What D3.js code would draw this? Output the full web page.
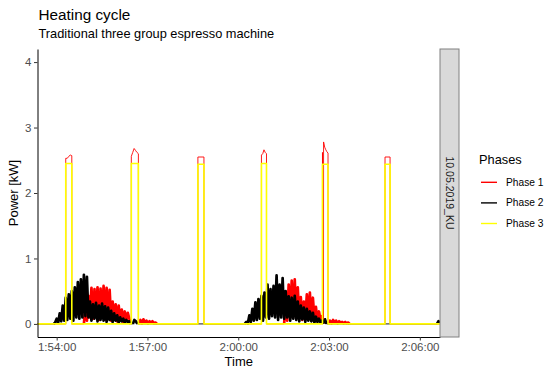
<!DOCTYPE html>
<html>
<head>
<meta charset="utf-8">
<script src="https://cdn.jsdelivr.net/npm/d3@7"></script>
<style>
body{margin:0;background:#fff;}
text{font-family:"Liberation Sans",Arial,sans-serif;}
</style>
</head>
<body>
<svg id="chart" width="545" height="369"></svg>
<script>
// ---- data ----
const chartTitle = "Heating cycle";
const chartSubtitle = "Traditional three group espresso machine";
const stripLabel = "10.05.2019_KU";
const phaseNames = ["Phase 1", "Phase 2", "Phase 3"];
const phaseColors = ["#FF0000", "#000000", "#FFFF00"];

const timeZero = "1:54:00";      // seconds below are counted from here
const timeFrom = -38;            // 1:53:22
const timeTo = 760;              // 2:06:40
const xTickLabels = ["1:54:00", "1:57:00", "2:00:00", "2:03:00", "2:06:00"];
const yTickValues = [0, 1, 2, 3, 4];

// heater pulses (seconds from 1:54:00)
const pulseOn = [18, 148, 280, 406, 527, 651];
const pulseOff = [30, 162, 292, 416, 538, 661];
const phase3Tops = [[2.45, 2.45], [2.45, 2.45], [2.44, 2.44], [2.45, 2.45], [2.44, 2.44], [2.44, 2.44]];
const phase1Tops = [
  [2.53, 2.53, 2.56, 2.58, 2.57],
  [2.56, 2.62, 2.68, 2.65, 2.62, 2.6],
  [2.55, 2.55],
  [2.58, 2.6, 2.66, 2.62, 2.6],
  [2.62, 2.78, 2.7, 2.66, 2.63, 2.61],
  [2.55, 2.55]
];

// group loads, sampled every 3 s
const sampleStep = 3;
const p1LoadA = [0, 0.28, 0.05, 0.43, 0.1, 0.55, 0.08, 0.53, 0.12, 0.56, 0.06, 0.54, 0.1, 0.58, 0.07, 0.55,
  0.09, 0.52, 0.05, 0.34, 0.08, 0.3, 0.04, 0.28, 0.06, 0.22, 0.03, 0.19, 0.05, 0.17, 0.08, 0];
const p1TailA = [0, 0.06, 0.01, 0.07, 0.02, 0.05, 0.01, 0.04, 0.02, 0.04, 0.01, 0.02, 0];
const p1LoadB = [0, 0.38, 0.05, 0.6, 0.1, 0.66, 0.12, 0.68, 0.08, 0.56, 0.1, 0.41, 0.06, 0.34, 0.1, 0.45,
  0.08, 0.48, 0.05, 0.4, 0.08, 0.26, 0.04, 0.19, 0.06, 0.12, 0];
const p1TailB = [0, 0.05, 0.01, 0.06, 0.02, 0.05, 0.01, 0.04, 0.02, 0.03, 0.01, 0.03, 0.01, 0.02, 0];
const p1Starts = [54, 163, 451, 539];

const p2LoadA = [0, 0.02, 0.08, 0.02, 0.16, 0.04, 0.28, 0.05, 0.4, 0.06, 0.45, 0.08, 0.5, 0.05, 0.56, 0.1,
  0.64, 0.08, 0.68, 0.1, 0.75, 0.12, 0.72, 0.1, 0.34, 0.05, 0.3, 0.08, 0.32, 0.04, 0.28, 0.06,
  0.31, 0.05, 0.27, 0.03, 0.25, 0.06, 0.2, 0.03, 0.16, 0.05, 0.13, 0.02, 0.1, 0.04, 0.08, 0.02,
  0.06, 0.03, 0.04, 0];
const p2BlipA = [0, 0.06, 0.04, 0];
const p2LoadB = [0, 0.03, 0.01, 0.13, 0.03, 0.23, 0.05, 0.33, 0.06, 0.38, 0.08, 0.43, 0.05, 0.48, 0.1, 0.6,
  0.08, 0.53, 0.12, 0.58, 0.1, 0.74, 0.06, 0.6, 0.1, 0.7, 0.08, 0.5, 0.1, 0.42, 0.05, 0.4,
  0.08, 0.43, 0.06, 0.34, 0.04, 0.28, 0.07, 0.25, 0.03, 0.23, 0.05, 0.19, 0.04, 0.17, 0.02, 0.11,
  0.03, 0.08, 0.02, 0.05, 0.02, 0.07, 0];
const p2BlipB = [0, 0.04, 0.02];
const p2Starts = [-6, 151, 373, 754];

// ---- layout ----
const svg = d3.select("#chart");
const panel = {left: 37.5, right: 440, top: 49, bottom: 337};
const strip = {left: 440, right: 459};

const parseT = d3.timeParse("%H:%M:%S");
const t0 = parseT("0" + timeZero);
const at = s => new Date(t0.getTime() + s * 1000);

const x = d3.scaleTime().domain([at(timeFrom), at(timeTo)]).range([panel.left, panel.right]);
const y = d3.scaleLinear().domain([-0.2, 4.2]).range([panel.bottom, panel.top]);

function pulses(tops){
  let pts = [];
  pulseOn.forEach((on, i) => {
    const off = pulseOff[i], tp = tops[i];
    pts.push({t: on, v: 0});
    tp.forEach((v, j) => pts.push({t: on + j * (off - on) / (tp.length - 1), v: v}));
    pts.push({t: off, v: 0});
  });
  return pts;
}
function loadSegs(starts, arrays){
  return arrays.map((arr, k) => arr.map((v, j) => ({t: starts[k] + j * sampleStep, v: v})));
}
function series(pts){
  pts = [{t: timeFrom, v: 0}].concat(pts);
  pts.sort((a, b) => a.t - b.t);
  if (pts[pts.length - 1].t < timeTo) pts.push({t: timeTo, v: 0});
  return pts;
}

const p1Segs = loadSegs(p1Starts, [p1LoadA, p1TailA, p1LoadB, p1TailB]);
const p2Segs = loadSegs(p2Starts, [p2LoadA, p2BlipA, p2LoadB, p2BlipB]);
const phaseData = [
  series(pulses(phase1Tops).concat(p1Segs.flat())),
  series(p2Segs.flat()),
  series(pulses(phase3Tops))
];
const phaseSegs = [p1Segs, p2Segs, []];

const line = d3.line().x(d => x(at(d.t))).y(d => y(d.v));

const plot = svg.append("g");
phaseData.forEach((pts, i) => {
  plot.append("path").datum(pts)
    .attr("d", line)
    .attr("fill", "none")
    .attr("stroke", phaseColors[i])
    .attr("stroke-width", i == 2 ? 1.6 : 0.9)
    .attr("stroke-linejoin", "round");
  // the rapid on/off switching of the group loads reads as a solid block
  phaseSegs[i].forEach(seg => {
    plot.append("path").datum(seg)
      .attr("d", line)
      .attr("fill", "none")
      .attr("stroke", phaseColors[i])
      .attr("stroke-width", 2.7)
      .attr("stroke-linejoin", "round");
  });
});

// axes
const xAxis = d3.axisBottom(x)
  .tickValues(xTickLabels.map(s => parseT("0" + s)))
  .tickFormat(d3.timeFormat("%-H:%M:%S"))
  .tickSize(3.5).tickSizeOuter(0).tickPadding(2.5);
const yAxis = d3.axisLeft(y).tickValues(yTickValues).tickFormat(d3.format("d"))
  .tickSize(3.5).tickSizeOuter(0).tickPadding(2.5);

const gx = svg.append("g").attr("transform", "translate(0," + panel.bottom + ")").call(xAxis);
const gy = svg.append("g").attr("transform", "translate(" + panel.left + ",0)").call(yAxis);
[gx, gy].forEach(g => {
  g.select(".domain").attr("stroke", "#000").attr("stroke-width", 1);
  g.selectAll(".tick line").attr("stroke", "#333");
  g.selectAll(".tick text").attr("fill", "#4D4D4D").style("font-size", "11.5px")
    .style("font-family", "Liberation Sans, Arial, sans-serif");
});

// facet strip
svg.append("rect")
  .attr("x", strip.left).attr("y", panel.top)
  .attr("width", strip.right - strip.left).attr("height", panel.bottom - panel.top)
  .attr("fill", "#D9D9D9").attr("stroke", "#808080").attr("stroke-width", 1);
svg.append("text")
  .attr("transform", "translate(" + (strip.left + strip.right) / 2 + "," + (panel.top + panel.bottom) / 2 + ") rotate(90)")
  .attr("text-anchor", "middle").attr("dy", "0.35em")
  .style("font-size", "10.5px").attr("fill", "#1A1A1A")
  .text(stripLabel);

// titles
svg.append("text").attr("x", panel.left + 1).attr("y", 19.5)
  .style("font-size", "15.3px").attr("fill", "#000").text(chartTitle);
svg.append("text").attr("x", panel.left + 1).attr("y", 38)
  .style("font-size", "12.8px").attr("fill", "#000").text(chartSubtitle);
svg.append("text").attr("x", (panel.left + panel.right) / 2).attr("y", 366)
  .attr("text-anchor", "middle").style("font-size", "13px").attr("fill", "#000").text("Time");
svg.append("text")
  .attr("transform", "translate(18," + (panel.top + panel.bottom) / 2 + ") rotate(-90)")
  .attr("text-anchor", "middle").style("font-size", "13px").attr("fill", "#000").text("Power [kW]");

// legend
const legend = svg.append("g");
legend.append("text").attr("x", 479).attr("y", 164)
  .style("font-size", "12.8px").attr("fill", "#000").text("Phases");
const keys = legend.selectAll("g.key").data(phaseNames).enter().append("g")
  .attr("class", "key")
  .attr("transform", (d, i) => "translate(0," + (182.3 + i * 20.6) + ")");
keys.append("line").attr("x1", 481).attr("x2", 497).attr("y1", 0).attr("y2", 0)
  .attr("stroke", (d, i) => phaseColors[i]).attr("stroke-width", 1.4);
keys.append("text").attr("x", 506).attr("dy", "0.35em")
  .style("font-size", "10.2px").attr("fill", "#000").text(d => d);
</script>
</body>
</html>
